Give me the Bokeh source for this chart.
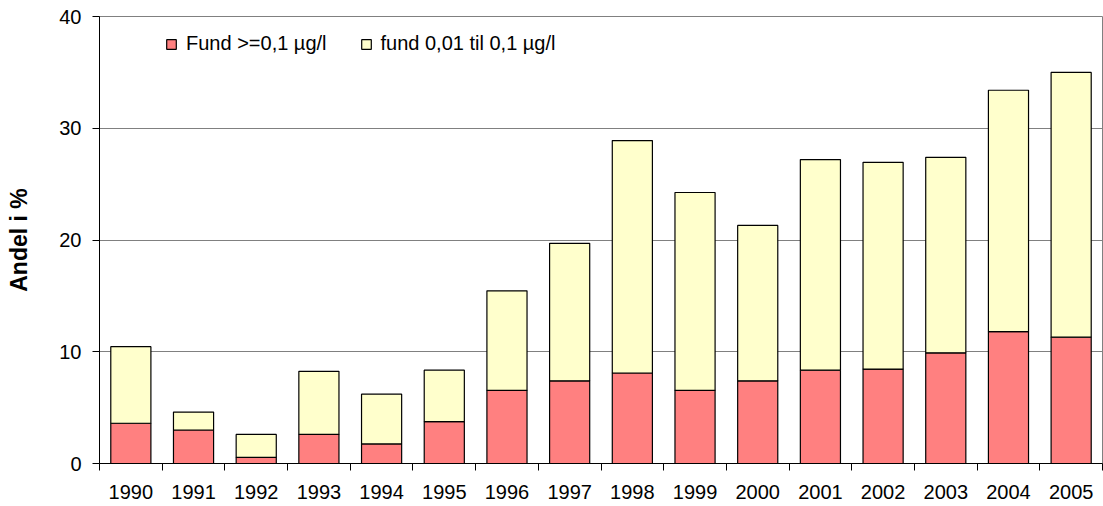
from bokeh.plotting import figure
from bokeh.models import ColumnDataSource, Range1d, FixedTicker, Legend, LegendItem
from bokeh.embed import file_html
from bokeh.resources import INLINE

years = ["1990", "1991", "1992", "1993", "1994", "1995", "1996", "1997",
         "1998", "1999", "2000", "2001", "2002", "2003", "2004", "2005"]
fund_high = [3.6, 3.0, 0.55, 2.6, 1.75, 3.75, 6.55, 7.4, 8.1, 6.55, 7.4, 8.35, 8.45, 9.9, 11.8, 11.3]
fund_low = [6.85, 1.6, 2.05, 5.65, 4.45, 4.6, 8.9, 12.3, 20.8, 17.7, 13.9, 18.85, 18.5, 17.5, 21.6, 23.7]
series_labels = ["Fund >=0,1 µg/l", "fund 0,01 til 0,1 µg/l"]
y_ticks = [0, 10, 20, 30, 40]

FONT = "Liberation Sans"
idx = list(range(len(years)))
source = ColumnDataSource(dict(x=idx, high=fund_high, low=fund_low))

p = figure(width=1103, height=506, output_backend="svg", toolbar_location=None,
           x_range=Range1d(-0.5, len(years) - 0.5), y_range=Range1d(0, 40),
           min_border_left=99, min_border_right=1, min_border_top=16, min_border_bottom=43)

renderers = p.vbar_stack(["high", "low"], x="x", width=0.64, source=source,
                         fill_color=["#FF8080", "#FFFFCC"], line_color="black", line_width=1.2)

p.background_fill_color = "white"
p.outline_line_color = "#808080"
p.outline_line_width = 1

p.xgrid.grid_line_color = None
p.ygrid.grid_line_color = "#808080"
p.ygrid.grid_line_width = 1
p.ygrid.ticker = FixedTicker(ticks=y_ticks)

# x axis
p.xaxis.ticker = FixedTicker(ticks=idx, minor_ticks=[i - 0.5 for i in range(len(years) + 1)])
p.xaxis.major_label_overrides = {i: y for i, y in zip(idx, years)}
p.xaxis.major_tick_line_color = None
p.xaxis.minor_tick_out = 7
p.xaxis.minor_tick_in = 0
p.xaxis.minor_tick_line_color = "black"
p.xaxis.axis_line_color = "black"
p.xaxis.major_label_text_font = FONT
p.xaxis.major_label_text_font_size = "20px"
p.xaxis.major_label_text_color = "black"
p.xaxis.major_label_standoff = 14

# y axis
p.yaxis.ticker = FixedTicker(ticks=y_ticks)
p.yaxis.major_tick_out = 7
p.yaxis.major_tick_in = 0
p.yaxis.minor_tick_line_color = None
p.yaxis.axis_line_color = "black"
p.yaxis.major_tick_line_color = "black"
p.yaxis.major_label_text_font = FONT
p.yaxis.major_label_text_font_size = "20px"
p.yaxis.major_label_text_color = "black"
p.yaxis.major_label_standoff = 11
p.yaxis.axis_label = "Andel i %"
p.yaxis.axis_label_text_font = FONT
p.yaxis.axis_label_text_font_size = "23px"
p.yaxis.axis_label_text_font_style = "bold"
p.yaxis.axis_label_text_color = "black"
p.yaxis.axis_label_standoff = 24

legend = Legend(items=[LegendItem(label=series_labels[0], renderers=[renderers[0]]),
                       LegendItem(label=series_labels[1], renderers=[renderers[1]])],
                location=(66, 408), orientation="horizontal",
                glyph_width=12, glyph_height=12, label_standoff=9, spacing=33,
                padding=0, margin=0, border_line_color=None, background_fill_alpha=0,
                label_text_font=FONT, label_text_font_size="20px", label_text_color="black")
p.add_layout(legend)

open("out.html", "w").write(file_html(p, INLINE))
